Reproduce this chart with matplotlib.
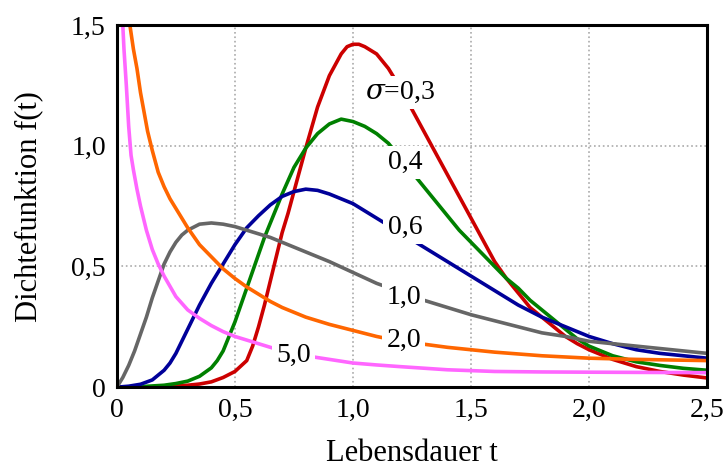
import numpy as np
import matplotlib
matplotlib.use('Agg')
import matplotlib.pyplot as plt

plt.rcParams['font.family'] = ['Liberation Serif', 'DejaVu Serif']
plt.rcParams['mathtext.fontset'] = 'dejavuserif'

# values (t, f(t))
t_03 = [0, 0.1, 0.2, 0.25, 0.3, 0.35, 0.4, 0.45, 0.5, 0.55, 0.575, 0.6, 0.625, 0.65, 0.675, 0.7,
        0.725, 0.75, 0.775, 0.8, 0.85, 0.9, 0.95, 0.975, 1.0, 1.025, 1.05, 1.1, 1.15, 1.2, 1.25,
        1.3, 1.35, 1.4, 1.45, 1.5, 1.55, 1.6, 1.65, 1.7, 1.75, 1.8, 1.85, 1.9, 1.95, 2.0, 2.1,
        2.2, 2.3, 2.4, 2.5]
f_03 = [0, 0, 0.002, 0.005, 0.008, 0.013, 0.022, 0.04, 0.065, 0.11, 0.17, 0.25, 0.34, 0.44, 0.54, 0.64,
        0.72, 0.81, 0.90, 0.99, 1.16, 1.29, 1.38, 1.41, 1.42, 1.42, 1.41, 1.38, 1.32, 1.24, 1.15,
        1.06, 0.97, 0.88, 0.79, 0.70, 0.61, 0.52, 0.45, 0.39, 0.33, 0.29, 0.25, 0.21, 0.18, 0.155, 0.115,
        0.085, 0.065, 0.05, 0.038]

t_04 = [0, 0.1, 0.2, 0.25, 0.3, 0.35, 0.4, 0.425, 0.45, 0.475, 0.5, 0.525, 0.55, 0.575, 0.6, 0.625,
        0.65, 0.7, 0.75, 0.8, 0.85, 0.9, 0.95, 1.0, 1.05, 1.1, 1.15, 1.2, 1.25, 1.3, 1.35, 1.4,
        1.45, 1.5, 1.55, 1.6, 1.65, 1.7, 1.75, 1.8, 1.85, 1.9, 1.95, 2.0, 2.05, 2.1, 2.2, 2.3,
        2.4, 2.5]
f_04 = [0, 0.002, 0.008, 0.015, 0.025, 0.045, 0.08, 0.11, 0.15, 0.21, 0.27, 0.34, 0.41, 0.48, 0.55, 0.62,
        0.68, 0.80, 0.91, 0.99, 1.05, 1.09, 1.11, 1.10, 1.08, 1.05, 1.01, 0.95, 0.89, 0.83, 0.77, 0.71,
        0.65, 0.60, 0.55, 0.50, 0.45, 0.41, 0.36, 0.32, 0.28, 0.24, 0.20, 0.17, 0.15, 0.13, 0.105, 0.09,
        0.078, 0.07]

t_06 = [0, 0.05, 0.1, 0.15, 0.2, 0.225, 0.25, 0.275, 0.3, 0.325, 0.35, 0.375, 0.4, 0.45, 0.5, 0.55,
        0.6, 0.65, 0.7, 0.75, 0.8, 0.85, 0.9, 0.95, 1.0, 1.05, 1.1, 1.15, 1.2, 1.25, 1.3, 1.35,
        1.4, 1.45, 1.5, 1.55, 1.6, 1.65, 1.7, 1.75, 1.8, 1.85, 1.9, 1.95, 2.0, 2.1, 2.2, 2.3,
        2.4, 2.5]
f_06 = [0, 0.004, 0.012, 0.03, 0.07, 0.10, 0.14, 0.19, 0.24, 0.29, 0.34, 0.385, 0.43, 0.51, 0.59, 0.66,
        0.71, 0.755, 0.79, 0.81, 0.82, 0.815, 0.80, 0.78, 0.76, 0.73, 0.70, 0.67, 0.64, 0.61, 0.58, 0.55,
        0.52, 0.49, 0.46, 0.43, 0.40, 0.37, 0.34, 0.315, 0.29, 0.27, 0.25, 0.23, 0.21, 0.18, 0.155, 0.14,
        0.13, 0.12]

t_10 = [0, 0.025, 0.05, 0.075, 0.1, 0.125, 0.15, 0.175, 0.2, 0.225, 0.25, 0.275, 0.3, 0.35, 0.4, 0.45,
        0.5, 0.55, 0.6, 0.65, 0.7, 0.8, 0.9, 1.0, 1.1, 1.2, 1.3, 1.4, 1.5, 1.6, 1.7, 1.8,
        1.9, 2.0, 2.1, 2.2, 2.3, 2.4, 2.5]
f_10 = [0, 0.04, 0.09, 0.15, 0.22, 0.29, 0.37, 0.44, 0.51, 0.56, 0.60, 0.63, 0.65, 0.675, 0.68, 0.675,
        0.665, 0.65, 0.635, 0.62, 0.60, 0.56, 0.52, 0.475, 0.43, 0.395, 0.36, 0.33, 0.30, 0.275, 0.25, 0.225,
        0.21, 0.19, 0.18, 0.17, 0.16, 0.15, 0.14]

t_20 = [0.045, 0.055, 0.07, 0.085, 0.1, 0.115, 0.13, 0.15, 0.175, 0.2, 0.225, 0.25, 0.275, 0.3, 0.35,
        0.4, 0.45, 0.5, 0.55, 0.6, 0.65, 0.7, 0.8, 0.9, 1.0, 1.1, 1.2, 1.3, 1.4, 1.5, 1.6, 1.8,
        2.0, 2.2, 2.5]
f_20 = [1.62, 1.50, 1.40, 1.32, 1.22, 1.14, 1.06, 0.98, 0.89, 0.83, 0.78, 0.74, 0.70, 0.66, 0.59,
        0.54, 0.49, 0.45, 0.415, 0.385, 0.355, 0.33, 0.29, 0.26, 0.235, 0.21, 0.19, 0.178, 0.165, 0.155, 0.145, 0.13,
        0.12, 0.115, 0.11]

t_50 = [0.018, 0.025, 0.03, 0.04, 0.05, 0.06, 0.07, 0.085, 0.1, 0.125, 0.15, 0.175, 0.2, 0.25, 0.3,
        0.35, 0.4, 0.45, 0.5, 0.6, 0.7, 0.8, 0.9, 1.0, 1.1, 1.2, 1.4, 1.6, 1.8, 2.0, 2.5]
f_50 = [1.70, 1.50, 1.40, 1.25, 1.08, 0.96, 0.90, 0.82, 0.75, 0.65, 0.57, 0.51, 0.46, 0.375, 0.32,
        0.285, 0.255, 0.23, 0.21, 0.18, 0.15, 0.13, 0.115, 0.10, 0.092, 0.085, 0.072, 0.065, 0.063, 0.062, 0.06]

curves = [(t_03, f_03, '#cc0000'), (t_04, f_04, '#008000'), (t_06, f_06, '#000099'),
          (t_10, f_10, '#666666'), (t_20, f_20, '#ff6600'), (t_50, f_50, '#ff66ff')]

labels = [r'$\sigma$=0,3', '0,4', '0,6', '1,0', '2,0', '5,0']
label_pos = [(1.20, 1.22), (1.22, 0.93), (1.22, 0.66), (1.215, 0.37), (1.215, 0.195), (0.75, 0.13)]

xticks = [0, 0.5, 1.0, 1.5, 2.0, 2.5]
xticklabels = ['0', '0,5', '1,0', '1,5', '2,0', '2,5']
yticks = [0, 0.5, 1.0, 1.5]
yticklabels = ['0', '0,5', '1,0', '1,5']

fig = plt.figure(figsize=(7.26, 4.71), dpi=100)
ax = fig.add_axes([0.161, 0.178, 0.813, 0.769])

for t, f, c in curves:
    ax.plot(t, f, color=c, lw=2.6, solid_capstyle='round', solid_joinstyle='round')

for s, (x, y) in zip(labels, label_pos):
    ax.text(x, y, s, ha='center', va='center', fontsize=20, zorder=5,
            bbox=dict(facecolor='white', edgecolor='none', pad=3))

ax.set_xlim(0, 2.5)
ax.set_ylim(0, 1.5)
ax.set_xticks(xticks)
ax.set_xticklabels(xticklabels)
ax.set_yticks(yticks)
ax.set_yticklabels(yticklabels)
ax.tick_params(length=0, labelsize=20, pad=8)
ax.grid(True, color='#aaaaaa', ls=':', lw=1.2)
for sp in ax.spines.values():
    sp.set_linewidth(2.2)
    sp.set_color('black')

ax.set_xlabel('Lebensdauer t', fontsize=22, labelpad=11)
ax.set_ylabel('Dichtefunktion f(t)', fontsize=22, labelpad=20)

fig.savefig('out.png', dpi=100)
